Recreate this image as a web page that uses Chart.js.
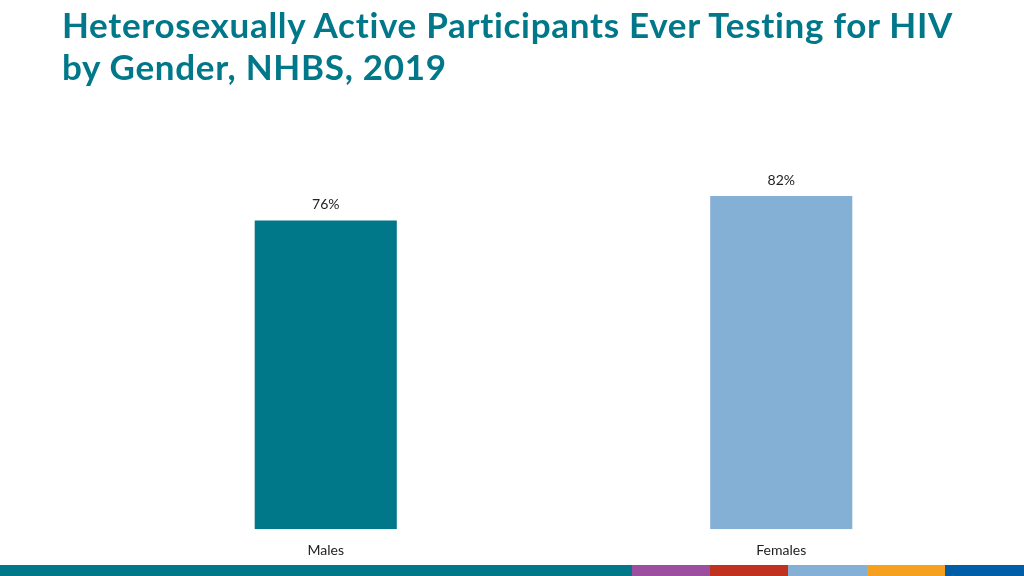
<!DOCTYPE html>
<html>
  <head>
    <title>NHBS 2019</title>
    <meta charset="UTF-8" />
    <style>
      body { margin: 0; background: #fff; width: 1024px; height: 576px; overflow: hidden; position: relative; }
      #title { position: absolute; left: 62px; top: 3px; margin: 0; font-family: Lato, sans-serif; font-weight: bold; font-size: 35px; letter-spacing: 0.7px; line-height: 42px; color: #00788A; }
      #strip { position: absolute; left: 0; top: 565px; width: 1024px; height: 11px; display: flex; }
      #strip div { height: 100%; }
      canvas { position: absolute; left: 0; top: 0; }
    </style>
  </head>

  <body>
    <canvas id="myChart" width="1024" height="576"></canvas>
    <h1 id="title">Heterosexually Active Participants Ever Testing for HIV<br>by Gender, NHBS, 2019</h1>
    <div id="strip">
      <div style="width:632px;background:#00788A"></div>
      <div style="width:78px;background:#9B4F9E"></div>
      <div style="width:78px;background:#C0311F"></div>
      <div style="width:79px;background:#85B0D6"></div>
      <div style="width:78px;background:#F5A01E"></div>
      <div style="width:79px;background:#005EA8"></div>
    </div>
<script src="https://cdn.jsdelivr.net/npm/chart.js@4"></script>
    <script>
    var categories = ['Males', 'Females'];
    var percentTested = [76, 82];
    var barColors = ['#00788A', '#85B0D6'];

    // draws the value on top of each bar
    var valueLabels = {
      id: 'valueLabels',
      afterDatasetsDraw: function(chart) {
        var ctx = chart.ctx;
        var meta = chart.getDatasetMeta(0);
        ctx.save();
        ctx.font = '14px Lato, sans-serif';
        ctx.fillStyle = '#222222';
        ctx.textAlign = 'center';
        ctx.textBaseline = 'bottom';
        meta.data.forEach(function(bar, i) {
          ctx.fillText(percentTested[i] + '%', bar.x, bar.y - 9);
        });
        ctx.restore();
      }
    };

    var data = {
      labels: categories,
      datasets: [{
        data: percentTested,
        backgroundColor: barColors,
        borderWidth: 0,
        barPercentage: 0.624,
        categoryPercentage: 0.5
      }]
    };

    var config = {
      type: 'bar',
      data: data,
      plugins: [valueLabels],
      options: {
        responsive: false,
        animation: false,
        layout: {
          padding: { left: 98, right: 15, top: 123, bottom: 4 }
        },
        plugins: {
          legend: { display: false },
          tooltip: { enabled: false }
        },
        scales: {
          x: {
            grid: { display: false, drawTicks: false },
            border: { display: false },
            ticks: {
              padding: 13,
              color: '#222222',
              font: { family: 'Lato, sans-serif', size: 14 }
            }
          },
          y: {
            display: false,
            min: 0,
            max: 100
          }
        }
      }
    };

    var myChart = new Chart(document.getElementById('myChart'), config);
    </script>
</body>
</html>
